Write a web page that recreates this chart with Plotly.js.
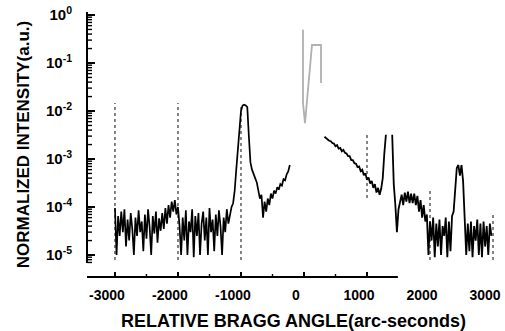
<!DOCTYPE html>
<html>
<head>
<meta charset="utf-8">
<script src="https://cdn.plot.ly/plotly-3.0.1.min.js"></script>
<style>html,body{margin:0;padding:0;background:#fff;}#chart{width:505px;height:331px;}</style>
</head>
<body>
<div id="chart"></div>
<script>
// ---- data ----
const angleStep = 25; // arc-seconds between samples
const leftStart = -3000;
const leftIntensity = [
  9.5e-5,1.0e-5,6.5e-5,2.5e-5,8.0e-5,3.0e-5,9.0e-5,1.5e-5,5.5e-5,2.0e-5,
  7.5e-5,3.5e-5,1.0e-5,6.0e-5,2.5e-5,8.5e-5,3.0e-5,5.0e-5,1.2e-5,7.0e-5,
  2.2e-5,9.0e-5,3.8e-5,1.0e-5,6.5e-5,2.8e-5,8.0e-5,1.8e-5,5.8e-5,3.2e-5,
  7.5e-5,3.5e-5,9.5e-5,4.5e-5,1.1e-4,6.0e-5,1.3e-4,8.0e-5,1.4e-4,7.0e-5,1.0e-4,4.0e-5,
  1.0e-5,6.0e-5,2.0e-5,8.5e-5,1.0e-5,5.0e-5,3.0e-5,9.0e-5,9e-6,6.5e-5,
  2.5e-5,7.5e-5,1.0e-5,4.5e-5,8.0e-5,2.0e-5,6.0e-5,1.0e-5,9.5e-5,3.0e-5,
  5.5e-5,1.2e-5,7.0e-5,2.5e-5,8.5e-5,4.0e-5,1.0e-5,6.0e-5,3.0e-5,9.0e-5,
  4.5e-5,7.0e-5,1.0e-4,
  1.2e-4,2.2e-4,6e-4,1.8e-3,5e-3,1.0e-2,1.3e-2,1.35e-2,1.3e-2,1.2e-2,
  3e-3,8.5e-4,6e-4,4.6e-4,4e-4,3.3e-4,2.4e-4,1.5e-4,1.8e-4,6e-5,
  1.3e-4,8e-5,1.5e-4,1.1e-4,1.9e-4,1.5e-4,2.2e-4,1.9e-4,2.6e-4,2.3e-4,
  3e-4,2.8e-4,3.8e-4,3.6e-4,4.8e-4,5.5e-4,7.5e-4
];
const rightStart = 325;
const rightIntensity = [
  2.9e-3,2.7e-3,2.55e-3,2.4e-3,2.35e-3,2.15e-3,2.1e-3,1.85e-3,1.95e-3,1.65e-3,
  1.7e-3,1.45e-3,1.55e-3,1.35e-3,1.3e-3,1.15e-3,1.15e-3,9.5e-4,9.5e-4,8.2e-4,
  8.0e-4,6.8e-4,7.0e-4,5.6e-4,6.0e-4,4.6e-4,5.0e-4,3.7e-4,4.1e-4,3.1e-4,
  3.5e-4,2.5e-4,3.0e-4,2.0e-4,2.5e-4,1.8e-4,2.4e-4,
  4e-4,1.3e-3,3.2e-3,
  null,null,null,
  3.2e-3,3e-4,1.1e-4,3e-5,9e-5,1.2e-4,1.8e-4,1.1e-4,2.0e-4,1.3e-4,
  2.1e-4,1.2e-4,1.9e-4,1.2e-4,1.9e-4,1.1e-4,1.7e-4,8e-5,1.4e-4,6e-5,
  1.1e-4,5e-5,7e-5,
  1.0e-5,5.0e-5,2.0e-5,6.0e-5,9e-6,4.5e-5,1.5e-5,5.5e-5,1.0e-5,4.0e-5,
  2.5e-5,6.0e-5,9e-6,5.0e-5,1.2e-5,6.5e-5,
  8e-5,3e-4,6.5e-4,7.5e-4,4.5e-4,7.5e-4,3.5e-4,6e-5,
  1.0e-5,4.5e-5,1.2e-5,5.0e-5,9e-6,4.0e-5,2.0e-5,5.5e-5,1.0e-5,4.5e-5,
  9e-6,5.0e-5,1.5e-5,4.0e-5,1.0e-5,4.5e-5,2.5e-5
];
// faint grey trace seen through the scan
const greyAngles = [-16, -16, 16, 127, 270, 270];
const greyIntensity = [0.49, 0.0147, 0.0056, 0.237, 0.237, 0.0383];
// dotted reference lines
const refAngles = [-3000, -2000, -1000, 1000, 2000, 3000];
const refTop = [1.47e-2, 1.47e-2, 1.4e-2, 3.2e-3, 2.5e-4, 6.8e-5];
const refBottom = [7.9e-6, 7.9e-6, 7.9e-6, 1.55e-4, 7.9e-6, 7.9e-6];
// tick labels
const yTickVals = [1, 0.1, 0.01, 0.001, 0.0001, 0.00001];
const yTickText = ['10<sup>0</sup>','10<sup>-1</sup>','10<sup>-2</sup>','10<sup>-3</sup>','10<sup>-4</sup>','10<sup>-5</sup>'];
const xTickVals = [-3000, -2000, -1000, 0, 1000, 2000, 3000];
const xTickText = ['-3000', '-2000', '-1000', '0', '1000', '2000', '3000'];
const xAxisLineEnd = 1490;      // the scanned x-axis line stops here
const yAxisLineBottom = 6.8e-6; // the scanned y-axis line stops here

const FONT = 'Liberation Sans, Arial, sans-serif';
const X_RANGE = [-3444, 3111];
const Y_RANGE = [-5.458, 0.0625];
const PLOT_W = 413, PLOT_H = 265;
const xPerPx = (X_RANGE[1] - X_RANGE[0]) / PLOT_W;
const logPerPx = (Y_RANGE[1] - Y_RANGE[0]) / PLOT_H;

const traces = [];
refAngles.forEach((a, i) => {
  traces.push({
    x: [a, a], y: [refBottom[i], refTop[i]], mode: 'lines', hoverinfo: 'skip',
    line: {color: '#333', width: 1.2, dash: 'dot'}, showlegend: false
  });
});
traces.push({
  x: greyAngles, y: greyIntensity, mode: 'lines',
  line: {color: '#b0b0b0', width: 1.8}, showlegend: false
});
traces.push({
  x0: leftStart, dx: angleStep, y: leftIntensity, mode: 'lines',
  line: {color: '#000', width: 1.7}, showlegend: false
});
traces.push({
  x0: rightStart, dx: angleStep, y: rightIntensity, mode: 'lines', connectgaps: false,
  line: {color: '#000', width: 1.8}, showlegend: false
});

// tick marks, pointing into the plot, built from the axis tick values
const yMinorTicks = [];
[1e-6, 1e-5, 1e-4, 1e-3, 1e-2, 1e-1].forEach(d => {
  for (let k = 2; k <= 9; k++) {
    const v = k * d;
    if (v >= yAxisLineBottom && v <= 1) yMinorTicks.push(v);
  }
});
function yTickTrace(vals, lenPx, w) {
  const x = [], y = [];
  vals.forEach(v => { x.push(X_RANGE[0], X_RANGE[0] + lenPx * xPerPx, null); y.push(v, v, null); });
  return {x, y, mode: 'lines', line: {color: '#000', width: w}, cliponaxis: false, hoverinfo: 'skip', showlegend: false};
}
function xTickTrace(vals, lenPx, w) {
  const x = [], y = [];
  const y0 = Math.pow(10, Y_RANGE[0]), y1 = Math.pow(10, Y_RANGE[0] + lenPx * logPerPx);
  vals.forEach(v => { x.push(v, v, null); y.push(y0, y1, null); });
  return {x, y, mode: 'lines', line: {color: '#000', width: w}, cliponaxis: false, hoverinfo: 'skip', showlegend: false};
}
const xMajorOnLine = xTickVals.filter(v => v <= xAxisLineEnd);
const xMinorOnLine = xMajorOnLine.map(v => v + 500).filter(v => v <= xAxisLineEnd);
traces.push(yTickTrace(yTickVals, 8, 2));
traces.push(yTickTrace(yMinorTicks, 5, 1.4));
traces.push(xTickTrace(xMajorOnLine, 5, 2));
traces.push(xTickTrace(xMinorOnLine, 3, 1.4));

const shapes = [
  {type: 'line', xref: 'x', yref: 'paper', x0: X_RANGE[0], x1: xAxisLineEnd, y0: 0, y1: 0,
   line: {color: '#000', width: 2}},
  {type: 'line', xref: 'paper', yref: 'y', x0: 0, x1: 0, y0: yAxisLineBottom, y1: 1.155,
   line: {color: '#000', width: 2}}
];

const layout = {
  width: 505, height: 331,
  margin: {l: 87, r: 5, t: 12, b: 54},
  paper_bgcolor: '#fff', plot_bgcolor: 'rgba(0,0,0,0)',
  font: {family: FONT, color: '#000'},
  xaxis: {
    range: X_RANGE,
    showgrid: false, zeroline: false, showline: false,
    tickmode: 'array', tickvals: xTickVals, ticktext: xTickText, ticks: '',
    tickfont: {family: FONT, size: 14, weight: 'bold', color: '#000'},
    ticklabelstandoff: 8, ticklabelshift: -8, ticklabeloverflow: 'allow',
    title: {text: 'RELATIVE BRAGG ANGLE(arc-seconds)', font: {family: FONT, size: 18, weight: 'bold', color: '#000'}, standoff: 12}
  },
  yaxis: {
    type: 'log', range: Y_RANGE,
    showgrid: false, zeroline: false, showline: false,
    tickmode: 'array', tickvals: yTickVals, ticktext: yTickText, ticks: '',
    tickfont: {family: FONT, size: 15, weight: 'bold', color: '#000'},
    ticklabelstandoff: 14,
    title: {text: 'NORMALIZED INTENSITY(a.u.)', font: {family: FONT, size: 17, weight: 'bold', color: '#000'}, standoff: 12}
  },
  shapes: shapes
};
Plotly.newPlot('chart', traces, layout, {displayModeBar: false});
</script>
</body>
</html>
